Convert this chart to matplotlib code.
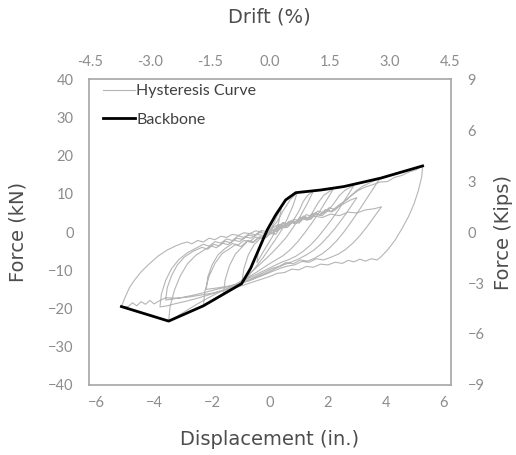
import numpy as np
import matplotlib
matplotlib.use("Agg")
import matplotlib.pyplot as plt

# backbone (displacement in., force kN)
bb_disp = [-5.13, -3.50, -2.30, -0.98, -0.67, -0.10, 0.19, 0.54, 0.89, 1.75, 2.55, 3.82, 5.27]
bb_force = [-19.5, -23.3, -19.3, -13.5, -9.5, 0.5, 4.4, 8.4, 10.3, 11.0, 11.9, 14.1, 17.3]

# hysteresis cycles (disp in., force kN)
cyc1 = [(0.0, 0.3), (0.2, 3.5), (0.4, 6.5), (0.3, 2.5), (0.1, -1.0), (-0.1, -3.5), (-0.3, -6.0),
        (-0.45, -8.0), (-0.4, -5.0), (-0.3, -2.5), (-0.15, -0.8), (0.0, 0.4)]
cyc2 = [(0.25, 2.8), (0.45, 5.5), (0.7, 8.5), (0.94, 10.3), (0.8, 7.0), (0.6, 3.5), (0.4, 0.5),
        (0.2, -1.8), (0.0, -4.0), (-0.25, -6.8), (-0.5, -9.2), (-0.75, -11.5), (-0.98, -13.5),
        (-0.9, -9.5), (-0.75, -6.0), (-0.55, -3.3), (-0.35, -1.8), (-0.15, -0.8), (0.05, 0.2),
        (0.25, 1.3)]
cyc3 = [(0.45, 2.5), (0.65, 2.0), (0.85, 3.6), (1.0, 5.5), (1.15, 8.0), (1.3, 9.6), (1.5, 10.8),
        (1.3, 7.6), (1.05, 4.2), (0.8, 1.2), (0.55, -1.5), (0.3, -3.6), (0.05, -5.6), (-0.2, -7.4),
        (-0.5, -9.5), (-0.8, -11.6), (-1.1, -13.4), (-1.35, -14.8), (-1.6, -16.0), (-1.55, -12.5),
        (-1.4, -8.8), (-1.2, -5.8), (-0.95, -3.8), (-0.75, -2.2), (-0.55, -2.6), (-0.35, -1.2),
        (-0.15, -1.5), (0.05, -0.2), (0.25, 0.4)]
cyc4 = [(0.45, 1.2), (0.65, 2.8), (0.85, 2.2), (1.05, 3.9), (1.25, 3.2), (1.45, 4.9), (1.65, 7.5),
        (1.85, 9.6), (2.05, 10.6), (2.2, 11.4), (1.95, 8.3), (1.7, 5.2), (1.45, 2.4), (1.2, -0.2),
        (0.95, -2.6), (0.7, -4.6), (0.45, -6.2), (0.2, -7.3), (-0.1, -8.7), (-0.4, -10.2),
        (-0.7, -11.6), (-1.0, -13.0), (-1.3, -14.5), (-1.6, -16.0), (-1.9, -17.4), (-2.1, -18.4),
        (-2.3, -19.3), (-2.25, -15.5), (-2.1, -11.5), (-1.9, -8.2), (-1.65, -5.6), (-1.4, -4.4),
        (-1.2, -3.3), (-1.0, -3.8), (-0.8, -2.4), (-0.6, -2.8), (-0.4, -1.4), (-0.2, -1.7),
        (0.0, -0.4), (0.2, -0.6)]
cyc5 = [(0.4, 1.6), (0.6, 1.2), (0.8, 2.8), (1.0, 2.3), (1.2, 3.9), (1.4, 3.3), (1.6, 4.8),
        (1.8, 4.3), (2.0, 5.6), (2.2, 7.4), (2.4, 9.6), (2.6, 11.0), (2.75, 11.6), (2.9, 12.2),
        (2.65, 9.2), (2.4, 6.2), (2.15, 3.5), (1.9, 1.0), (1.65, -1.4), (1.4, -3.4), (1.15, -5.0),
        (0.9, -6.3), (0.65, -7.2), (0.4, -7.9), (0.15, -8.8), (-0.15, -9.9), (-0.45, -11.0),
        (-0.8, -12.3), (-1.15, -13.5), (-1.5, -14.9), (-1.85, -16.1), (-2.2, -17.5), (-2.55, -19.0),
        (-2.9, -20.6), (-3.2, -22.0), (-3.5, -23.3), (-3.45, -19.5), (-3.3, -15.2), (-3.1, -11.5),
        (-2.85, -8.3), (-2.55, -6.0), (-2.25, -4.6), (-2.05, -3.6), (-1.85, -4.1), (-1.65, -2.9),
        (-1.45, -3.3), (-1.25, -2.1), (-1.05, -2.5), (-0.85, -1.3), (-0.65, -1.6), (-0.45, -0.6),
        (-0.25, -0.9), (-0.05, 0.1), (0.15, -0.2)]
cyc6 = [(0.35, 1.8), (0.55, 1.3), (0.75, 3.0), (0.95, 2.5), (1.15, 4.2), (1.35, 3.6), (1.55, 5.0),
        (1.75, 4.5), (1.95, 5.9), (2.15, 5.3), (2.35, 6.6), (2.55, 7.4), (2.75, 8.3), (3.0, 9.0),
        (2.75, 6.2), (2.5, 3.5), (2.25, 1.0), (2.0, -1.2), (1.75, -3.2), (1.5, -4.8), (1.25, -6.0),
        (1.0, -7.0), (0.75, -7.8), (0.5, -8.5), (0.2, -9.5), (-0.1, -10.6), (-0.4, -11.6),
        (-0.7, -12.7), (-1.1, -13.6), (-1.5, -14.4), (-1.9, -15.1), (-2.3, -15.9), (-2.7, -16.6),
        (-3.1, -17.2), (-3.6, -17.8), (-3.55, -14.6), (-3.4, -11.4), (-3.2, -8.6), (-2.95, -6.5),
        (-2.65, -5.0), (-2.35, -4.0), (-2.15, -4.5), (-1.95, -3.2), (-1.75, -3.6), (-1.55, -2.4),
        (-1.35, -2.8), (-1.15, -1.6), (-0.95, -1.9), (-0.75, -0.8), (-0.55, -1.1), (-0.35, -0.1),
        (-0.15, -0.4), (0.05, 0.6), (0.25, 0.3)]
cyc7 = [(0.45, 2.2), (0.65, 1.7), (0.85, 3.3), (1.05, 2.8), (1.25, 4.6), (1.45, 4.0), (1.65, 5.5),
        (1.85, 5.0), (2.05, 6.4), (2.25, 5.8), (2.45, 7.2), (2.7, 8.8), (2.95, 10.6), (3.2, 12.0),
        (3.45, 12.9), (3.65, 13.6), (3.8, 14.1), (3.55, 11.2), (3.3, 8.3), (3.05, 5.4), (2.8, 2.6),
        (2.55, 0.0), (2.3, -2.3), (2.05, -4.2), (1.8, -5.7), (1.55, -6.8), (1.3, -7.6), (1.05, -7.3),
        (0.8, -8.3), (0.55, -8.0), (0.3, -9.0), (0.05, -9.6), (-0.25, -10.7), (-0.6, -12.0),
        (-0.95, -13.2), (-1.3, -14.3), (-1.7, -15.4), (-2.1, -16.4), (-2.5, -17.3), (-2.9, -18.1),
        (-3.3, -18.8), (-3.55, -19.3), (-3.8, -19.6), (-3.75, -16.2), (-3.6, -12.6), (-3.4, -9.6),
        (-3.15, -7.2), (-2.85, -5.4), (-2.55, -4.2), (-2.3, -3.2), (-2.1, -3.7), (-1.9, -2.5),
        (-1.7, -2.9), (-1.5, -1.8), (-1.3, -2.2), (-1.1, -1.0), (-0.9, -1.4), (-0.7, -0.4),
        (-0.5, -0.7), (-0.3, 0.4), (-0.1, 0.1), (0.1, 1.1)]
cyc8 = [(0.3, 2.0), (0.5, 1.5), (0.7, 2.9), (0.9, 2.4), (1.1, 3.6), (1.3, 3.1), (1.5, 4.2),
        (1.8, 3.8), (2.1, 4.7), (2.4, 4.3), (2.7, 5.2), (3.0, 5.0), (3.3, 5.8), (3.6, 6.1),
        (3.85, 6.6), (3.6, 4.0), (3.35, 1.4), (3.1, -1.0), (2.85, -3.0), (2.6, -4.6), (2.35, -5.8),
        (2.1, -6.6), (1.85, -7.3), (1.6, -7.0), (1.35, -7.9), (1.1, -7.7), (0.85, -8.6), (0.6, -8.9),
        (0.35, -9.5), (0.05, -10.4), (-0.3, -11.5), (-0.65, -12.5), (-1.0, -13.3), (-1.4, -14.1),
        (-1.8, -14.6), (-2.2, -15.0), (-2.15, -11.8), (-2.0, -8.6), (-1.8, -6.0), (-1.55, -4.3),
        (-1.3, -3.0), (-1.1, -3.4), (-0.9, -2.2), (-0.7, -2.5), (-0.5, -1.3), (-0.3, -1.6),
        (-0.1, -0.5), (0.1, -0.1)]
cyc9 = [(0.3, 1.5), (0.5, 1.1), (0.7, 2.7), (0.9, 2.2), (1.1, 3.8), (1.3, 3.3), (1.5, 4.9),
        (1.7, 4.4), (1.9, 5.8), (2.1, 5.3), (2.3, 6.6), (2.55, 8.0), (2.8, 9.5), (3.05, 10.9),
        (3.3, 11.8), (3.55, 12.4), (3.8, 13.1), (4.05, 13.2), (4.3, 14.3), (4.55, 14.8), (4.8, 15.7),
        (5.05, 16.3), (5.27, 17.3), (5.24, 14.5), (5.13, 11.0), (4.97, 7.3), (4.78, 4.0),
        (4.55, 0.8), (4.32, -2.1), (4.08, -4.5), (3.83, -6.5), (3.7, -7.3), (3.5, -7.0), (3.3, -7.6),
        (3.1, -7.1), (2.9, -7.8), (2.7, -7.4), (2.5, -8.2), (2.25, -7.9), (2.0, -8.6), (1.75, -8.4),
        (1.5, -9.2), (1.25, -9.0), (1.0, -9.9), (0.75, -9.7), (0.5, -10.6), (0.25, -10.8),
        (0.0, -11.6), (-0.4, -12.6), (-0.8, -13.6), (-1.2, -14.6), (-1.6, -15.3), (-2.0, -16.0),
        (-2.4, -16.5), (-2.8, -17.0), (-3.2, -17.3), (-3.6, -17.2), (-3.8, -17.9), (-4.0, -18.8),
        (-4.15, -17.9), (-4.3, -18.9), (-4.45, -18.2), (-4.6, -19.3), (-4.75, -18.5), (-4.9, -19.5),
        (-5.13, -19.5), (-5.0, -17.0), (-4.85, -14.5), (-4.7, -12.8), (-4.45, -10.4), (-4.15, -8.2),
        (-3.85, -6.2), (-3.55, -4.7), (-3.25, -3.6), (-3.05, -3.0), (-2.85, -2.6), (-2.7, -3.1),
        (-2.5, -2.2), (-2.3, -2.6), (-2.1, -1.6), (-1.9, -2.0), (-1.7, -1.1), (-1.5, -1.4),
        (-1.3, -0.6), (-1.1, -0.9), (-0.9, -0.2), (-0.7, -0.4), (-0.5, 0.3), (-0.3, 0.1)]

cycles = [cyc1, cyc2, cyc3, cyc4, cyc5, cyc6, cyc7, cyc8, cyc9]

x_ticks = [-6, -4, -2, 0, 2, 4, 6]
kn_ticks = [-40, -30, -20, -10, 0, 10, 20, 30, 40]
kip_ticks = [-9, -6, -3, 0, 3, 6, 9]
drift_ticks = [-4.5, -3.0, -1.5, 0.0, 1.5, 3.0, 4.5]
H = 138.0  # specimen height (in.) for drift

tick_col = '#8c8c8c'
spine_col = '#a6a6a6'

fig = plt.figure(figsize=(5.16, 4.55), dpi=100)
ax = fig.add_axes([0.1725, 0.154, 0.7015, 0.672])

hx = np.concatenate([np.array(c)[:, 0] for c in cycles])
hy = np.concatenate([np.array(c)[:, 1] for c in cycles])
ax.plot(hx, hy, color='#b5b5b5', lw=0.8, label='Hysteresis Curve')
ax.plot(bb_disp, bb_force, color='black', lw=2.0, label='Backbone')

ax.set_xlim(-6.25, 6.25)
ax.set_ylim(-40, 40)
ax.set_xticks(x_ticks)
ax.set_yticks(kn_ticks)
ax.tick_params(length=0, labelsize=10.5, labelcolor=tick_col, pad=11)
ax.tick_params(axis='x', pad=8)
for s in ax.spines.values():
    s.set_color(spine_col)
    s.set_linewidth(1.2)
for lab in ax.get_xticklabels() + ax.get_yticklabels():
    lab.set_family('Lato')

ax2 = ax.twinx()
ax2.set_ylim(-9, 9)
ax2.set_yticks(kip_ticks)
ax2.tick_params(length=0, labelsize=10.5, labelcolor=tick_col, pad=12)
ax2.spines[:].set_visible(False)
for lab in ax2.get_yticklabels():
    lab.set_family('Lato')

top = ax.secondary_xaxis('top', functions=(lambda d: d * 100 / H, lambda p: p * H / 100))
top.set_xticks(drift_ticks)
top.set_xticklabels(['%.1f' % t for t in drift_ticks])
top.tick_params(length=0, labelsize=10.5, labelcolor=tick_col, pad=7)
top.spines['top'].set_visible(False)
for lab in top.get_xticklabels():
    lab.set_family('Lato')

lab_font = dict(fontsize=14, color='#4d4d4d', family='DejaVu Sans')
fig.text(0.523, 0.962, 'Drift (%)', ha='center', va='center', **lab_font)
fig.text(0.523, 0.035, 'Displacement (in.)', ha='center', va='center', **lab_font)
fig.text(0.035, 0.49, 'Force (kN)', ha='center', va='center', rotation=90, **lab_font)
fig.text(0.975, 0.49, 'Force (Kips)', ha='center', va='center', rotation=90, **lab_font)

leg = ax.legend(loc='upper left', bbox_to_anchor=(0.02, 1.005), frameon=False,
                handlelength=2.0, handletextpad=0.1, labelspacing=0.9, borderaxespad=0.0,
                prop={'family': 'Lato', 'size': 11.5})
for t in leg.get_texts():
    t.set_color('#404040')

fig.savefig('out.png', dpi=100)
